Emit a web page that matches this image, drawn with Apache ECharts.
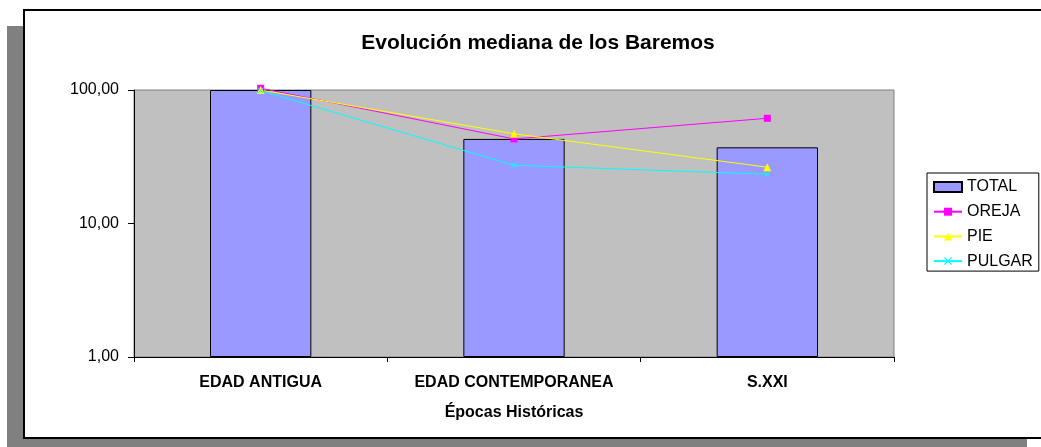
<!DOCTYPE html>
<html>
<head>
<meta charset="utf-8">
<title>Evolución mediana de los Baremos</title>
<script src="https://cdn.jsdelivr.net/npm/echarts@6/dist/echarts.min.js"></script>
<style>
  html, body { margin: 0; padding: 0; background: #ffffff; }
  #chart { width: 1041px; height: 447px; }
</style>
</head>
<body>
<div id="chart"></div>
<script>
// datos (escala logarítmica)
const epocas = ['EDAD ANTIGUA', 'EDAD CONTEMPORANEA', 'S.XXI']
const total = [100, 43, 37.2]
const oreja = [103, 43, 61.4]
const pie = [100, 47, 26.4]
const pulgar = [99, 27.3, 23.4]
const yTicks = [1, 10, 100]

const FONT = '"Liberation Sans", Arial, sans-serif'

function fmt(v) {
  return v.toFixed(2).replace('.', ',')
}

function lineSerie(name, data, color, symbol, size) {
  return {
    name,
    type: 'line',
    data,
    clip: false,
    symbol,
    symbolSize: size,
    lineStyle: { color, width: 1 },
    itemStyle: { color, borderColor: color, borderWidth: 0 },
    z: 5,
  }
}

const chart = echarts.init(document.getElementById('chart'), null, { renderer: 'canvas' })

chart.setOption({
  animation: false,
  textStyle: { fontFamily: FONT, color: '#000' },
  graphic: [
    // sombra y marco del gráfico
    { type: 'rect', z: -10, shape: { x: 7, y: 26, width: 1020, height: 421 }, style: { fill: '#808080' } },
    { type: 'rect', z: -9, shape: { x: 24, y: 10, width: 1040, height: 428 }, style: { fill: '#ffffff', stroke: '#000', lineWidth: 2 } },
  ],
  title: {
    text: 'Evolución mediana de los Baremos',
    left: 533,
    textAlign: 'center',
    top: 28,
    textStyle: { fontFamily: FONT, fontSize: 21, fontWeight: 'bold', color: '#000' },
  },
  legend: {
    orient: 'vertical',
    left: 927,
    top: 173,
    padding: [6, 6, 2, 6],
    itemWidth: 28,
    itemHeight: 10,
    itemGap: 8.7,
    backgroundColor: '#ffffff',
    borderColor: '#000',
    borderWidth: 1,
    borderRadius: 0,
    textStyle: { fontFamily: FONT, fontSize: 16, color: '#000', lineHeight: 16 },
    data: [{ name: 'TOTAL', icon: 'rect' }, 'OREJA', 'PIE', 'PULGAR'],
  },
  grid: {
    left: 134,
    right: 147,
    top: 90,
    bottom: 90,
    show: true,
    backgroundColor: '#C0C0C0',
    borderColor: '#808080',
    borderWidth: 1,
  },
  xAxis: {
    type: 'category',
    data: epocas,
    name: 'Épocas Históricas',
    nameLocation: 'middle',
    nameGap: 48,
    nameTextStyle: { fontFamily: FONT, fontSize: 16, fontWeight: 'bold', color: '#000' },
    axisLine: { lineStyle: { color: '#000', width: 1 } },
    axisTick: { show: true, length: 5, interval: 0, lineStyle: { color: '#000' } },
    axisLabel: { interval: 0, hideOverlap: false, fontFamily: FONT, fontSize: 16, fontWeight: 'bold', color: '#000', margin: 18 },
    splitLine: { show: false },
  },
  yAxis: {
    type: 'log',
    logBase: 10,
    min: yTicks[0],
    max: yTicks[yTicks.length - 1],
    axisLine: { show: true, lineStyle: { color: '#000', width: 1 } },
    axisTick: { show: true, length: 6, lineStyle: { color: '#000' } },
    minorTick: { show: false },
    axisLabel: { fontFamily: FONT, fontSize: 16, color: '#000', margin: 15, formatter: fmt },
    splitLine: { show: false },
  },
  series: [
    {
      name: 'TOTAL',
      type: 'bar',
      data: total,
      barWidth: '40%',
      itemStyle: { color: '#9999FF', borderColor: '#000', borderWidth: 1 },
      z: 2,
    },
    lineSerie('OREJA', oreja, '#FF00FF', 'rect', 7),
    lineSerie('PIE', pie, '#FFFF00', 'triangle', 8),
    lineSerie('PULGAR', pulgar, '#00FFFF', 'path://M0,1L1,0L5,4L9,0L10,1L6,5L10,9L9,10L5,6L1,10L0,9L4,5Z', 6),
  ],
})
</script>
</body>
</html>
